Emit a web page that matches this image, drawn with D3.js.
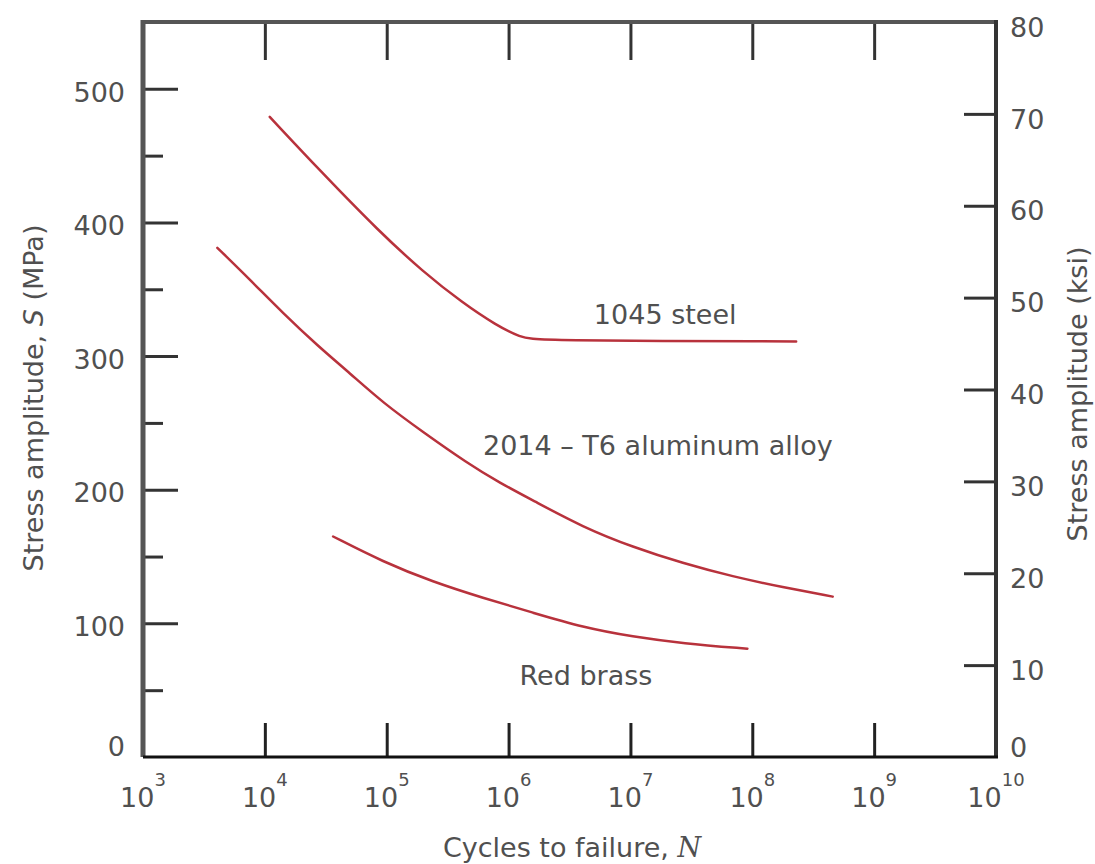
<!DOCTYPE html>
<html>
<head>
<meta charset="utf-8">
<script src="https://cdn.jsdelivr.net/npm/d3@7"></script>
<style>
  html, body { margin: 0; padding: 0; background: #ffffff; }
  svg { display: block; }
  text { font-family: "DejaVu Sans", sans-serif; fill: #505050; }
</style>
</head>
<body>
<svg id="chart" width="1095" height="864"></svg>
<script>
// ---- Data ----
const xExponents = [3, 4, 5, 6, 7, 8, 9, 10];          // x tick labels: 10^n
const leftTicks = [0, 100, 200, 300, 400, 500];         // MPa
const leftMinorTicks = [50, 150, 250, 350, 450];
const rightTicks = [0, 10, 20, 30, 40, 50, 60, 70, 80]; // ksi

const steelLogN = [4.04, 4.45, 4.94, 5.30, 5.62, 5.90, 6.10, 6.22, 8.36];
const steelS    = [479, 439, 393, 363, 340, 323, 314, 311.5, 311];

const aluLogN = [3.61, 3.88, 4.15, 4.43, 4.70, 4.97, 5.30, 5.66, 5.93, 6.20, 6.61, 7.02, 7.43, 7.84, 8.25, 8.66];
const aluS    = [381, 357, 332, 308, 287, 265, 243, 220, 205, 192, 172, 157, 145, 135, 127, 120];

const brassLogN = [4.56, 4.97, 5.38, 5.79, 6.20, 6.61, 7.02, 7.43, 7.96];
const brassS    = [165, 146, 131, 119, 108, 97, 90, 85, 81];

const seriesNames = ["1045 steel", "2014 \u2013 T6 aluminum alloy", "Red brass"];
const labelLogN = [6.70, 5.79, 6.09];
const labelS    = [324, 226, 54];

// ---- Layout ----
const L = 143, R = 996, T = 22, B = 757;
const svg = d3.select("#chart");

const x = d3.scaleLog().domain([1e3, 1e10]).range([L, R]);
const yL = d3.scaleLinear().domain([0, 550]).range([B, T]);
const yR = d3.scaleLinear().domain([0, 80]).range([B, T]);

const curveColor = "#b8323c";

// Curves
const line = d3.line()
  .x(d => x(Math.pow(10, d[0])))
  .y(d => yL(d[1]))
  .curve(d3.curveBasis);

const series = [
  d3.zip(steelLogN, steelS),
  d3.zip(aluLogN, aluS),
  d3.zip(brassLogN, brassS)
];
svg.append("g").selectAll("path").data(series).join("path")
  .attr("d", line)
  .attr("fill", "none")
  .attr("stroke", curveColor)
  .attr("stroke-width", 2.5)
  .attr("stroke-linecap", "round");

// Series labels
svg.append("g").selectAll("text").data(seriesNames).join("text")
  .attr("x", (d, i) => x(Math.pow(10, labelLogN[i])))
  .attr("y", (d, i) => yL(labelS[i]))
  .attr("font-size", 27)
  .text(d => d);

// ---- Axes ----
const decadeTicks = xExponents.slice(1, -1).map(e => Math.pow(10, e));

// bottom ticks (pointing up)
svg.append("g").attr("transform", `translate(0,${B})`)
  .call(d3.axisBottom(x).tickValues(decadeTicks).tickSizeInner(-34).tickSizeOuter(0).tickFormat(""))
  .call(g => g.select(".domain").remove())
  .call(g => g.selectAll(".tick line").attr("stroke", "#222").attr("stroke-width", 3));

// top ticks (pointing down)
svg.append("g").attr("transform", `translate(0,${T})`)
  .call(d3.axisTop(x).tickValues(decadeTicks).tickSizeInner(-38).tickSizeOuter(0).tickFormat(""))
  .call(g => g.select(".domain").remove())
  .call(g => g.selectAll(".tick line").attr("stroke", "#333").attr("stroke-width", 3));

// left major ticks
svg.append("g").attr("transform", `translate(${L},0)`)
  .call(d3.axisLeft(yL).tickValues(leftTicks.slice(1)).tickSizeInner(-35).tickSizeOuter(0).tickFormat(""))
  .call(g => g.select(".domain").remove())
  .call(g => g.selectAll(".tick line").attr("stroke", "#333").attr("stroke-width", 3));
// left minor ticks
svg.append("g").attr("transform", `translate(${L},0)`)
  .call(d3.axisLeft(yL).tickValues(leftMinorTicks).tickSizeInner(-20).tickSizeOuter(0).tickFormat(""))
  .call(g => g.select(".domain").remove())
  .call(g => g.selectAll(".tick line").attr("stroke", "#333").attr("stroke-width", 3));

// right ticks
svg.append("g").attr("transform", `translate(${R},0)`)
  .call(d3.axisRight(yR).tickValues(rightTicks.slice(1, -1)).tickSizeInner(-32).tickSizeOuter(0).tickFormat(""))
  .call(g => g.select(".domain").remove())
  .call(g => g.selectAll(".tick line").attr("stroke", "#333").attr("stroke-width", 3));

// Frame
svg.append("line").attr("x1", L).attr("x2", R).attr("y1", T).attr("y2", T).attr("stroke", "#555").attr("stroke-width", 4);
svg.append("line").attr("x1", L).attr("x2", L).attr("y1", T - 2).attr("y2", B).attr("stroke", "#555").attr("stroke-width", 5);
svg.append("line").attr("x1", R).attr("x2", R).attr("y1", T - 2).attr("y2", B + 1).attr("stroke", "#333").attr("stroke-width", 4);
svg.append("line").attr("x1", L).attr("x2", R + 2).attr("y1", B).attr("y2", B).attr("stroke", "#111").attr("stroke-width", 3);

// Left tick labels
svg.append("g").selectAll("text").data(leftTicks).join("text")
  .attr("x", 125)
  .attr("y", d => yL(d) + (d === 0 ? -11 : 3))
  .attr("dy", "0.36em")
  .attr("text-anchor", "end")
  .attr("font-size", 27)
  .text(d => d);

// Right tick labels
svg.append("g").selectAll("text").data(rightTicks).join("text")
  .attr("x", 1010)
  .attr("y", d => yR(d) + (d === 0 ? -10 : 5))
  .attr("dy", "0.36em")
  .attr("text-anchor", "start")
  .attr("font-size", 27)
  .text(d => d);

// Bottom tick labels 10^n
const xl = svg.append("g").selectAll("text").data(xExponents).join("text")
  .attr("x", d => x(Math.pow(10, d)))
  .attr("y", 807)
  .attr("text-anchor", "middle")
  .attr("font-size", 27);
xl.append("tspan").text("10");
xl.append("tspan").attr("dy", -21).attr("font-size", 18).text(d => d);

// Axis titles
const xt = svg.append("text")
  .attr("x", 572).attr("y", 857)
  .attr("text-anchor", "middle")
  .attr("font-size", 27);
xt.append("tspan").text("Cycles to failure, ");
xt.append("tspan").attr("font-style", "italic").attr("font-family", "DejaVu Serif").text("N");

const ylt = svg.append("text")
  .attr("transform", "translate(43,398) rotate(-90)")
  .attr("text-anchor", "middle")
  .attr("font-size", 27);
ylt.append("tspan").text("Stress amplitude, ");
ylt.append("tspan").attr("font-style", "italic").text("S");
ylt.append("tspan").text(" (MPa)");

svg.append("text")
  .attr("transform", "translate(1087,394) rotate(-90)")
  .attr("text-anchor", "middle")
  .attr("font-size", 27)
  .text("Stress amplitude (ksi)");
</script>
</body>
</html>
